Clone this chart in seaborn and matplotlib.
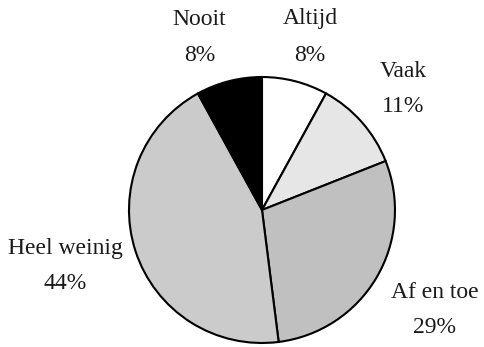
import matplotlib
matplotlib.use("Agg")
import matplotlib.pyplot as plt
import seaborn as sns

sns.set_theme(style="white")
plt.rcParams["font.family"] = ["Liberation Serif", "DejaVu Serif"]

categories = ["Altijd", "Vaak", "Af en toe", "Heel weinig", "Nooit"]
values = [8, 11, 29, 44, 8]
pct_labels = ["8%", "11%", "29%", "44%", "8%"]
colors = ["#ffffff", "#e6e6e6", "#c0c0c0", "#cbcbcb", "#000000"]

fig = plt.figure(figsize=(4.85, 3.47), dpi=100)
ax = fig.add_axes([0, 0, 1, 1])

ax.pie(values, colors=colors, startangle=90, counterclock=False,
       radius=1.0, center=(0, 0),
       wedgeprops=dict(edgecolor="black", linewidth=1.5))

# label placement (name above, percentage below), in pie data units
label_pos = {
    "Altijd": (0.36, 1.44, 1.16),
    "Vaak": (1.06, 1.04, 0.78),
    "Af en toe": (1.30, -0.62, -0.88),
    "Heel weinig": (-1.48, -0.29, -0.55),
    "Nooit": (-0.47, 1.43, 1.16),
}
for name, pct in zip(categories, pct_labels):
    x, y1, y2 = label_pos[name]
    ax.text(x, y1, name, ha="center", va="center", fontsize=17, color="#1a1a1a")
    ax.text(x, y2, pct, ha="center", va="center", fontsize=17, color="#1a1a1a")

ax.set_xlim(-1.970, 1.677)
ax.set_ylim(-1.030, 1.579)
ax.set_aspect("equal")
ax.axis("off")

fig.savefig("out.png", dpi=100, facecolor="white")
